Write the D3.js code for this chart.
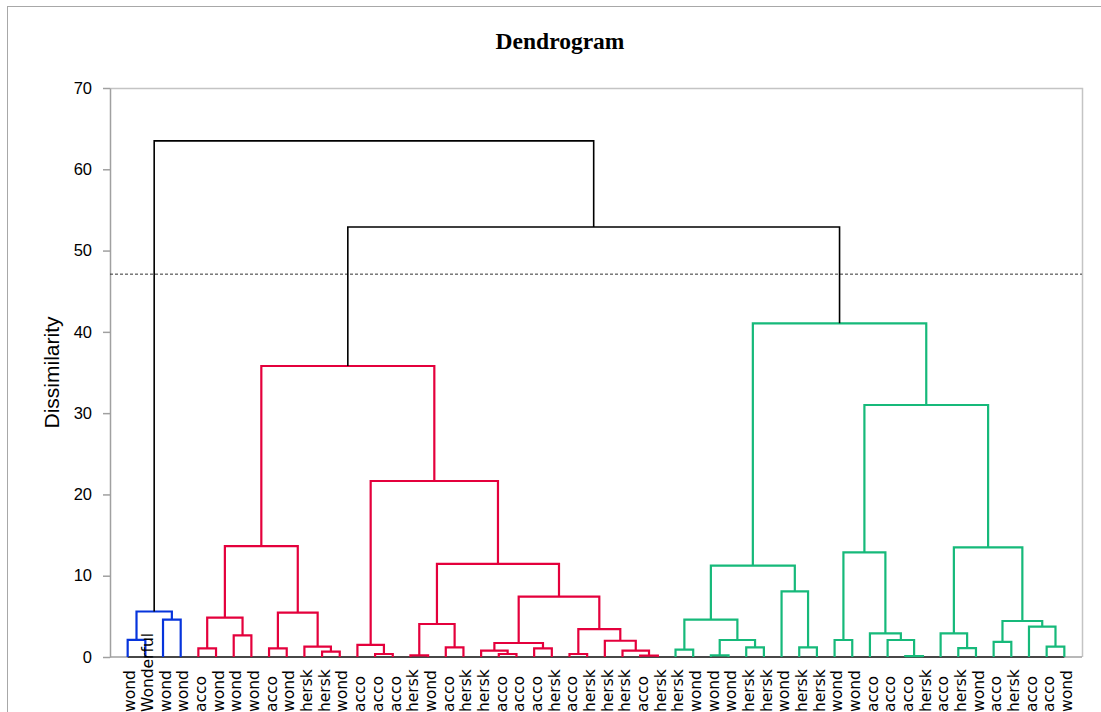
<!DOCTYPE html>
<html>
<head>
<meta charset="utf-8">
<script src="https://cdn.jsdelivr.net/npm/d3@7"></script>
<style>
  html, body { margin: 0; padding: 0; background: #fff; }
  svg { display: block; }
</style>
</head>
<body>
<svg id="chart" width="1101" height="712"></svg>
<script>
// Leaf labels, left to right in dendrogram order
const leafLabels = [
  "wond", "Wonderful", "wond", "wond",
  "acco", "wond", "wond", "wond", "acco", "wond", "hersk", "hersk", "wond",
  "acco", "acco", "acco", "hersk", "wond", "acco", "hersk", "hersk", "acco",
  "acco", "acco", "hersk", "acco", "hersk", "hersk", "hersk", "acco", "hersk",
  "hersk", "wond", "wond", "wond", "hersk", "hersk", "wond", "hersk", "hersk",
  "wond", "wond", "acco", "acco", "acco", "hersk", "acco", "hersk", "wond",
  "acco", "hersk", "acco", "acco", "wond"
];

// Agglomeration steps: [child A, child B, dissimilarity].
// Ids below leafLabels.length are leaves; id n + k is the cluster made at step k.
const merges = [
  [0, 1, 2.1], [2, 3, 4.6], [54, 55, 5.6],
  [4, 5, 1.07], [6, 7, 2.67], [57, 58, 4.84], [8, 9, 1.07], [11, 12, 0.66],
  [10, 61, 1.27], [60, 62, 5.45], [59, 63, 13.65], [14, 15, 0.37], [13, 65, 1.48],
  [16, 17, 0.2], [18, 19, 1.19], [67, 68, 4.06], [21, 22, 0.37], [20, 70, 0.78],
  [23, 24, 1.07], [71, 72, 1.72], [25, 26, 0.37], [29, 30, 0.16], [28, 75, 0.78],
  [27, 76, 2.0], [74, 77, 3.44], [73, 78, 7.42], [69, 79, 11.45], [66, 80, 21.65],
  [64, 81, 35.8],
  [31, 32, 0.9], [33, 34, 0.2], [35, 36, 1.19], [84, 85, 2.09], [83, 86, 4.6],
  [38, 39, 1.19], [37, 88, 8.08], [87, 89, 11.23], [40, 41, 2.09], [44, 45, 0.1],
  [43, 92, 2.09], [42, 93, 2.9], [91, 94, 12.88], [47, 48, 1.1], [46, 96, 2.9],
  [49, 50, 1.85], [52, 53, 1.27], [51, 99, 3.73], [98, 100, 4.43], [97, 101, 13.49],
  [95, 102, 31.0], [90, 103, 41.05],
  [82, 104, 52.9], [56, 105, 63.5]
];

// Clusters below the truncation level and their colours
const clusterRoots = [56, 82, 104];
const clusterColors = ["#0634dc", "#e4003c", "#16b97a"];

const truncation = 47.1;
const yTicks = [0, 10, 20, 30, 40, 50, 60, 70];
const yMax = 70;

const svg = d3.select("#chart");
const plot = { left: 110, right: 1082, top: 88, bottom: 657 };

const n = leafLabels.length;
const x = d3.scalePoint()
  .domain(d3.range(n))
  .range([plot.left, plot.right])
  .padding(1);
const y = d3.scaleLinear().domain([0, yMax]).range([plot.bottom, plot.top]);

// Outer chart border
svg.append("rect")
  .attr("x", 7.5).attr("y", 6.5)
  .attr("width", 1200).attr("height", 800)
  .attr("fill", "none").attr("stroke", "#a8a8a8").attr("stroke-width", 1);

// Plot frame (top and right)
svg.append("path")
  .attr("d", `M${plot.left},${plot.top + 0.5}H${plot.right + 0.5}V${plot.bottom}`)
  .attr("fill", "none").attr("stroke", "#c4c4c4").attr("stroke-width", 1.5);

// Title
svg.append("text")
  .attr("x", 560).attr("y", 49)
  .attr("text-anchor", "middle")
  .attr("font-family", "Liberation Serif, 'Times New Roman', serif")
  .attr("font-weight", "bold")
  .attr("font-size", 23.5)
  .text("Dendrogram");

// Y axis
const yAxis = svg.append("g")
  .attr("transform", `translate(${plot.left},0)`)
  .call(d3.axisLeft(y).tickValues(yTicks).tickSize(7).tickPadding(11).tickSizeOuter(0));
yAxis.select(".domain").attr("stroke", "#a0a0a0").attr("stroke-width", 1.5);
yAxis.selectAll(".tick line").attr("stroke", "#a0a0a0").attr("stroke-width", 1.5);
yAxis.selectAll(".tick text")
  .attr("font-family", "Liberation Sans, Arial, sans-serif")
  .attr("font-size", 16.5)
  .attr("fill", "#000");

svg.append("text")
  .attr("transform", `translate(59,${(plot.top + plot.bottom) / 2}) rotate(-90)`)
  .attr("text-anchor", "middle")
  .attr("font-family", "Liberation Sans, Arial, sans-serif")
  .attr("font-size", 21)
  .text("Dissimilarity");

// X axis line
svg.append("line")
  .attr("x1", plot.left).attr("x2", plot.right)
  .attr("y1", y(0)).attr("y2", y(0))
  .attr("stroke", "#a0a0a0").attr("stroke-width", 1.5);

// Truncation level
svg.append("line")
  .attr("x1", plot.left).attr("x2", plot.right)
  .attr("y1", y(truncation)).attr("y2", y(truncation))
  .attr("stroke", "#333").attr("stroke-width", 1)
  .attr("stroke-dasharray", "3,2");

// Node positions: leaves from the point scale, clusters at the midpoint of children
const nodeX = d3.range(n).map(i => x(i));
const nodeH = d3.range(n).map(() => 0);
const children = [];
merges.forEach(([a, b, h], k) => {
  nodeX[n + k] = (nodeX[a] + nodeX[b]) / 2;
  nodeH[n + k] = h;
  children[n + k] = [a, b];
});

// Colour every node that sits inside a cluster
const nodeColor = [];
function paint(id, color) {
  nodeColor[id] = color;
  if (children[id]) children[id].forEach(c => paint(c, color));
}
clusterRoots.forEach((r, i) => paint(r, clusterColors[i]));

// Baseline under the leaves
svg.append("line")
  .attr("x1", x(0)).attr("x2", x(n - 1))
  .attr("y1", y(0)).attr("y2", y(0))
  .attr("stroke", "#222").attr("stroke-width", 1.5);

// Links
svg.append("g")
  .attr("fill", "none")
  .selectAll("path")
  .data(merges.map(([a, b, h], k) => ({ a, b, h, id: n + k })))
  .join("path")
  .attr("d", d => `M${nodeX[d.a]},${y(nodeH[d.a])}V${y(d.h)}H${nodeX[d.b]}V${y(nodeH[d.b])}`)
  .attr("stroke", d => nodeColor[d.id] || "#000")
  .attr("stroke-width", d => nodeColor[d.id] ? 2.2 : 1.6)
  .attr("stroke-linejoin", "miter");

// Leaf labels
svg.append("g")
  .selectAll("text")
  .data(leafLabels)
  .join("text")
  .attr("transform", (d, i) => `translate(${x(i)},712) rotate(-90)`)
  .attr("dy", "0.5em")
  .attr("font-family", "DejaVu Sans, sans-serif")
  .attr("font-size", 15.5)
  .text(d => d);
</script>
</body>
</html>
